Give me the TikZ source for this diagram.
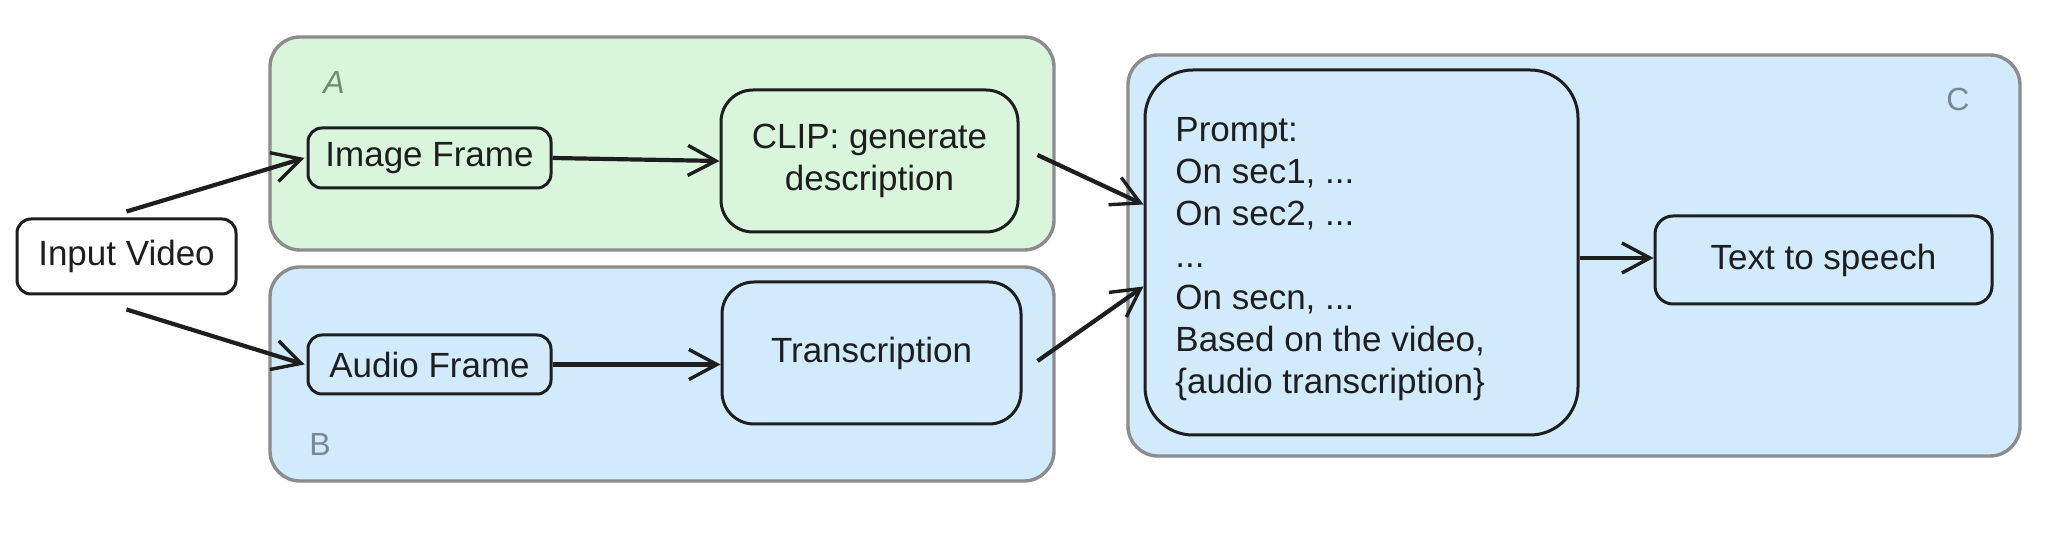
\documentclass[tikz,border=0pt]{standalone}
\usepackage{fontspec}
\setmainfont{Liberation Sans}
\usetikzlibrary{arrows.meta}
\definecolor{gfill}{RGB}{217,246,220}
\definecolor{bfill}{RGB}{209,235,253}
\definecolor{grp}{RGB}{140,140,140}
\definecolor{ink}{RGB}{30,30,30}
\definecolor{labA}{RGB}{112,140,114}
\definecolor{labB}{RGB}{122,134,148}
\tikzset{
  grpbox/.style={draw=grp, line width=1.7pt, rounded corners=15pt},
  box/.style={draw=ink, line width=1.5pt, rounded corners=7pt, inner sep=0pt, align=center,
    font=\fontsize{17.5}{21}\selectfont, text=ink},
  bigbox/.style={box, rounded corners=16pt},
  grplab/.style={font=\fontsize{16}{18}\selectfont},
  arr/.style={draw=ink, line width=2.1pt, -{Straight Barb[length=14pt,width=15pt,line width=1.7pt]}},
}
\begin{document}
\begin{tikzpicture}[x=0.5pt,y=-0.5pt]
\useasboundingbox (0,0) rectangle (2066,560);
\fill[white] (0,0) rectangle (2066,560);
% groups
\filldraw[grpbox, fill=gfill] (270,37) rectangle (1054,250);
\filldraw[grpbox, fill=bfill] (270,267) rectangle (1054,481);
\filldraw[grpbox, fill=bfill] (1128,55) rectangle (2020,456);
\node[grplab, text=labA] (labA) at (334,82) {\textit{A}};
\node[grplab, text=labB] (labB) at (320,444) {B};
\node[grplab, text=labB] (labC) at (1958,99) {C};
% nodes
\node[box, fill=white, minimum width=109.5pt, minimum height=37.5pt] (iv) at (126.5,256.5) {Input Video};
\node[box, minimum width=121.5pt, minimum height=30pt] (if) at (429.5,158) {Image Frame};
\node[bigbox, minimum width=148.5pt, minimum height=71pt] (clip) at (869.5,161) {CLIP: generate\\description};
\node[box, minimum width=121.5pt, minimum height=29.5pt] (af) at (429.5,364.5) {Audio Frame};
\node[bigbox, minimum width=149.5pt, minimum height=71pt] (tr) at (871.5,353) {Transcription};
\node[box, rounded corners=24pt, minimum width=216.5pt, minimum height=182.5pt] (prompt) at (1361.5,252.5) {};
\node[anchor=west, align=left, inner sep=0pt, text=ink, font=\fontsize{17.5}{21}\selectfont] (ptext) at (1175,259)
  {Prompt:\\On sec1, ...\\On sec2, ...\\...\\On secn, ...\\Based on the video,\\\{audio transcription\}};
\node[box, rounded corners=9pt, minimum width=168.5pt, minimum height=44pt] (tts) at (1823.5,260) {Text to speech};
% connectors
\draw[arr] ([yshift=3pt]iv.north) -- ([xshift=-1pt]if.west);
\draw[arr] ([yshift=-7pt]iv.south) -- ([xshift=-1pt]af.west);
\draw[arr] (if.east) -- (clip.west);
\draw[arr] (af.east) -- (af.east -| tr.west);
\draw[arr] ([xshift=9pt,yshift=3pt]clip.east) -- ([yshift=24pt]prompt.west);
\draw[arr] ([xshift=7.5pt,yshift=-4pt]tr.east) -- ([yshift=-17pt]prompt.west);
\draw[arr] (prompt.east |- 0,258) -- (tts.west |- 0,258);
\end{tikzpicture}
\end{document}
